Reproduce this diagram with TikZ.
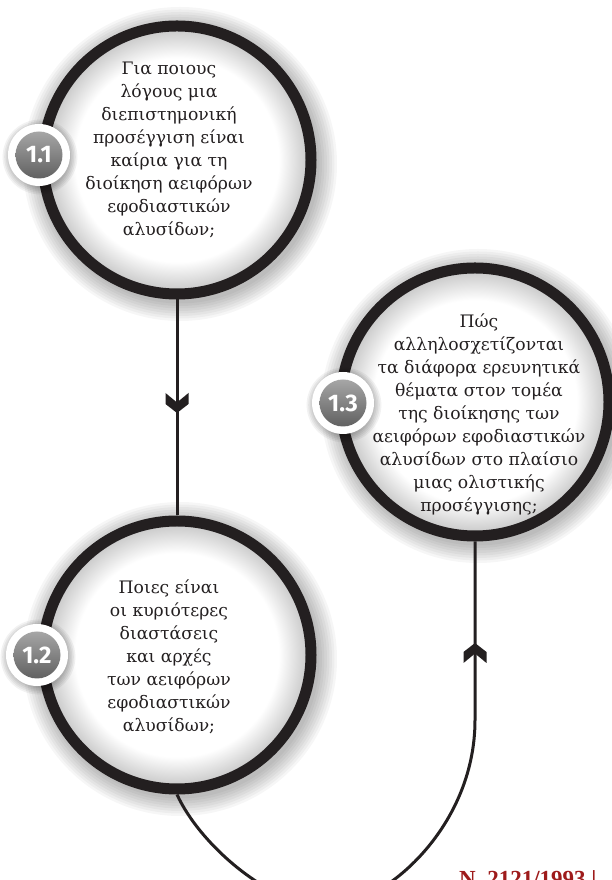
\documentclass[tikz,border=0pt]{standalone}
\usepackage{fontspec}
\setmainfont{DejaVu Serif}
\newfontfamily\badgefont{Fira Sans}
\newfontfamily\footfont{Liberation Serif}
\definecolor{ink}{HTML}{231F20}
\definecolor{footred}{HTML}{9E1B1B}
\pgfdeclareradialshading{ringglow}{\pgfpoint{0bp}{0bp}}{color(0bp)=(white); color(19bp)=(white); color(24.6bp)=(black!22); color(50bp)=(black!22)}
\tikzset{
  ring/.style={circle, draw=ink, line width=11pt, minimum size=268pt, inner sep=0pt, shade, shading=ringglow},
  qtext/.style={align=center, text=ink, inner sep=0pt, font=\fontsize{17.2}{23}\selectfont},
  conn/.style={draw=ink, line width=3pt},
  badgeouter/.style={circle, fill=white, minimum size=62pt, inner sep=0pt},
  badgeinner/.style={circle, top color=black!35, bottom color=black!62, minimum size=47pt, inner sep=0pt, text=white, font=\badgefont\bfseries\fontsize{24}{24}\selectfont},
  chevdown/.pic={\fill[ink] (0,0) -- (-11.5,9) -- (-11.5,20) -- (0,10.5) -- (11.5,20) -- (11.5,9) -- cycle;},
  footnote/.style={anchor=base west, inner sep=0pt, text=footred, font=\footfont\bfseries\fontsize{23}{23}\selectfont}
}
\newcommand{\ringshadow}[2]{%
  \foreach \k in {0,...,7}{\fill[black, opacity=0.035] (#1+3,#2-4) circle ({139.5+2.5*\k});}}
\newcommand{\badgeshadow}[2]{%
  \foreach \k in {0,...,4}{\fill[black, opacity=0.05] (#1+1,#2-2) circle ({31+1.6*\k});}}
\begin{document}
\begin{tikzpicture}[x=1pt,y=1pt]
\useasboundingbox (0,0) rectangle (612,880);
\clip (0,0) rectangle (612,880);
\fill[white] (0,0) rectangle (612,880);
% shadows
\ringshadow{177}{720}
\ringshadow{177}{225}
\ringshadow{475}{478}
% rings
\node[ring] (c11) at (177,720) {};
\node[ring] (c12) at (177,225) {};
\node[ring] (c13) at (475,478) {};
% connectors
\coordinate (ubot) at (325,-27);
\coordinate (uright) at (475,160);
\draw[conn] (c11.south) -- (c12.north);
\draw[conn] (c12.south) .. controls (200,35) and (270,-25) .. (ubot)
  .. controls (380,-29) and (475,50) .. (uright) -- (c13.south);
\pic at (177,467) {chevdown};
\pic[rotate=180] at (475,237) {chevdown};
% badges
\badgeshadow{39}{725}
\badgeshadow{37}{225}
\badgeshadow{343}{477}
\node[badgeouter] (b11o) at (39,725) {};
\node[badgeinner] (b11) at (39,725) {1.1};
\node[badgeouter] (b12o) at (37,225) {};
\node[badgeinner] (b12) at (37,225) {1.2};
\node[badgeouter] (b13o) at (343,477) {};
\node[badgeinner] (b13) at (343,477) {1.3};
% texts
\node[qtext] (t11) at (169,730) {Για ποιους\\λόγους μια\\διεπιστημονική\\προσέγγιση είναι\\καίρια για τη\\διοίκηση αειφόρων\\εφοδιαστικών\\αλυσίδων;};
\node[qtext] (t12) at (169,223) {Ποιες είναι\\οι κυριότερες\\διαστάσεις\\και αρχές\\των αειφόρων\\εφοδιαστικών\\αλυσίδων;};
\node[qtext] (t13) at (479,466) {Πώς\\αλληλοσχετίζονται\\τα διάφορα ερευνητικά\\θέματα στον τομέα\\της διοίκησης των\\αειφόρων εφοδιαστικών\\αλυσίδων στο πλαίσιο\\μιας ολιστικής\\προσέγγισης;};
% footer (cropped)
\node[footnote] (foot) at (459,-6.5) {Ν. 2121/1993 |};
\end{tikzpicture}
\end{document}
